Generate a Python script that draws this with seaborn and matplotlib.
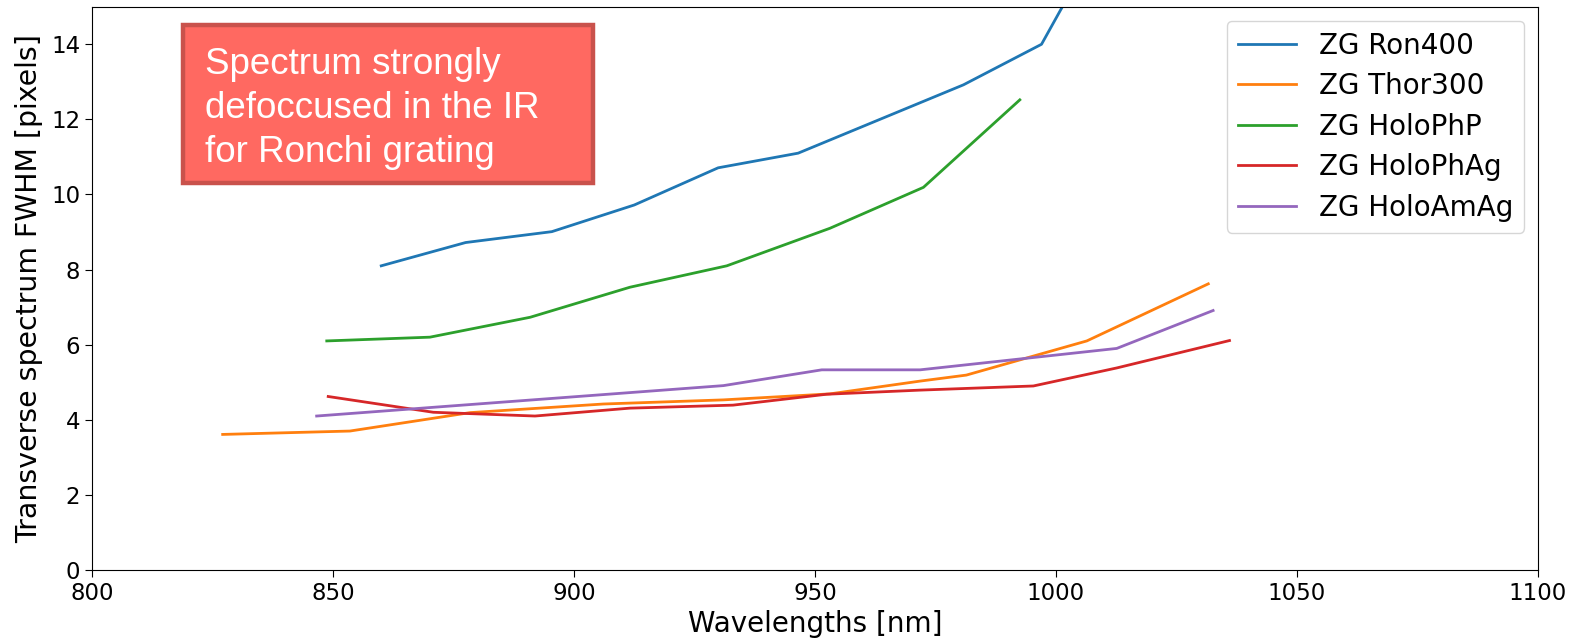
import matplotlib
matplotlib.use("Agg")
import matplotlib.pyplot as plt
import matplotlib.patches as mpatches
import seaborn as sns
import pandas as pd

# ---- data ----
ron400_x = [860, 877.5, 895.4, 912.5, 929.9, 946.5, 980.8, 997.0, 1010.0]
ron400_y = [8.10, 8.72, 9.01, 9.72, 10.71, 11.10, 12.92, 14.0, 17.0]

thor300_x = [827.1, 853.5, 878.4, 906.1, 931.0, 953.1, 971.8, 981.4, 1006.4, 1031.6]
thor300_y = [3.61, 3.70, 4.19, 4.42, 4.53, 4.69, 5.03, 5.19, 6.10, 7.62]

holophp_x = [848.7, 870.1, 890.9, 911.6, 931.7, 953.1, 972.5, 992.5]
holophp_y = [6.10, 6.20, 6.73, 7.53, 8.10, 9.10, 10.19, 12.52]

holophag_x = [849.0, 870.8, 891.9, 911.6, 933.0, 952.4, 971.8, 995.3, 1012.6, 1036.0]
holophag_y = [4.62, 4.20, 4.10, 4.31, 4.39, 4.68, 4.79, 4.90, 5.38, 6.11]

holoamag_x = [846.6, 931.0, 951.4, 971.8, 1012.6, 1032.6]
holoamag_y = [4.10, 4.91, 5.33, 5.33, 5.90, 6.91]

series_names = ["ZG Ron400", "ZG Thor300", "ZG HoloPhP", "ZG HoloPhAg", "ZG HoloAmAg"]
xticks = [800, 850, 900, 950, 1000, 1050, 1100]
yticks = [0, 2, 4, 6, 8, 10, 12, 14]
note_text = "Spectrum strongly\ndefoccused in the IR\nfor Ronchi grating"

frames = []
for name, xs, ys in zip(series_names,
                        [ron400_x, thor300_x, holophp_x, holophag_x, holoamag_x],
                        [ron400_y, thor300_y, holophp_y, holophag_y, holoamag_y]):
    frames.append(pd.DataFrame({"wl": xs, "fwhm": ys, "grating": name}))
df = pd.concat(frames, ignore_index=True)

fig = plt.figure(figsize=(15.79, 6.40), dpi=100)
ax = fig.add_axes([0.0583, 0.1094, 0.974 - 0.0583, 0.9895 - 0.1094])

palette = sns.color_palette("tab10", 5)
sns.lineplot(data=df, x="wl", y="fwhm", hue="grating", hue_order=series_names,
             palette=palette, sort=False, estimator=None, linewidth=2.0, ax=ax)

ax.set_xlim(800, 1100)
ax.set_ylim(0, 15)
ax.set_xticks(xticks)
ax.set_yticks(yticks)
ax.tick_params(labelsize=16.5, length=5)
ax.set_xlabel("Wavelengths [nm]", fontsize=20, labelpad=4)
ax.set_ylabel("Transverse spectrum FWHM [pixels]", fontsize=20.4, labelpad=6)

leg = ax.legend(fontsize=20, loc="upper right", handlelength=2.1,
                borderaxespad=0.5, labelspacing=0.45)

box = mpatches.Rectangle((0.0629, 0.687), 0.3465 - 0.0629, 0.9675 - 0.687,
                         transform=ax.transAxes, facecolor="#ff6961",
                         edgecolor="#c9524c", linewidth=3.2, zorder=3)
ax.add_patch(box)
ax.text(0.078, 0.928, note_text,
        transform=ax.transAxes, ha="left", va="top", color="white",
        fontsize=26.5, family=["Liberation Sans", "DejaVu Sans"], linespacing=1.33,
        zorder=4)

fig.savefig("out.png", dpi=100)
